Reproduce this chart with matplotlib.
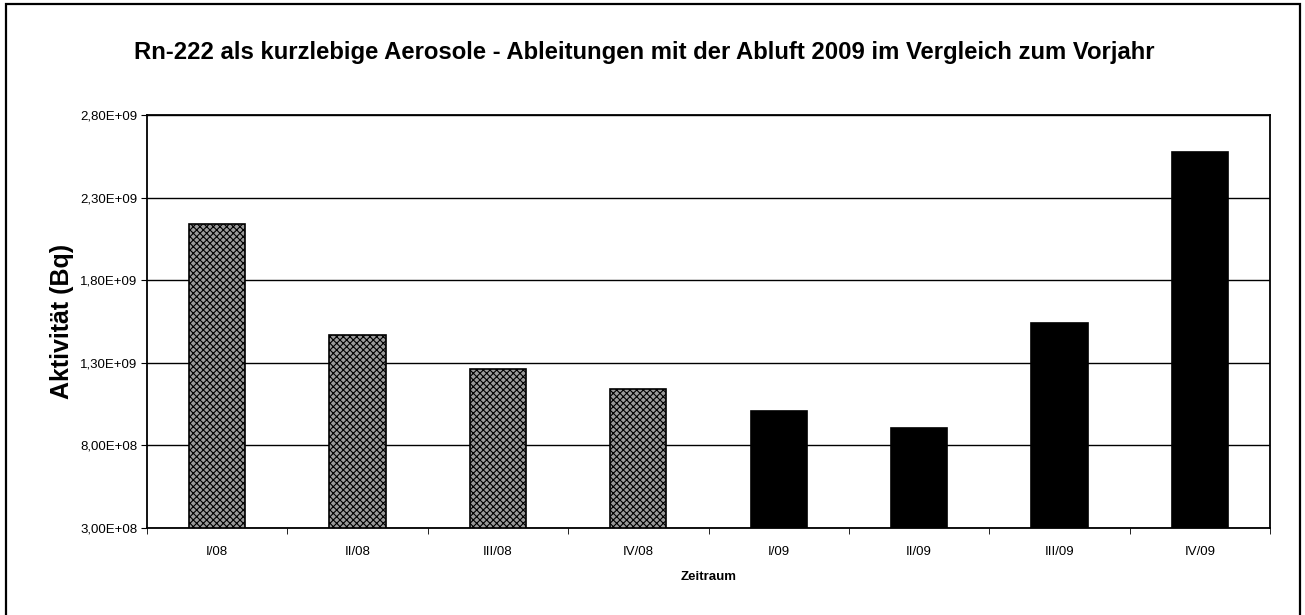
import numpy as np
import matplotlib.pyplot as plt
from matplotlib.patches import Rectangle
from matplotlib.ticker import FuncFormatter

plt.rcParams['font.family'] = ['Liberation Sans', 'DejaVu Sans']
plt.rcParams['hatch.linewidth'] = 0.8

# Data
periods = ['I/08', 'II/08', 'III/08', 'IV/08', 'I/09', 'II/09', 'III/09', 'IV/09']
activity = [2.14e9, 1.47e9, 1.26e9, 1.14e9, 1.01e9, 9.05e8, 1.54e9, 2.575e9]
is_prev_year = [True, True, True, True, False, False, False, False]
y_ticks = [3e8, 8e8, 1.3e9, 1.8e9, 2.3e9, 2.8e9]


def sci_comma(v, pos):
    s = '%.2E' % v
    return s.replace('.', ',')


def main():
    fig = plt.figure(figsize=(13.05, 6.15), dpi=100)
    W, H = 1305, 615
    ax = fig.add_axes([147 / W, 1 - 528 / H, (1270 - 147) / W, (528 - 115) / H])

    # Outer chart frame
    fig.patches.append(Rectangle((6 / W, -0.05), (1300 - 6) / W, 1.05 - 4 / H,
                                 transform=fig.transFigure, fill=False,
                                 edgecolor='black', linewidth=1.6))

    x = np.arange(len(periods))
    for xi, val, prev in zip(x, activity, is_prev_year):
        if prev:
            ax.bar(xi, val - y_ticks[0], bottom=y_ticks[0], width=0.4,
                   facecolor='#9a9a9a', edgecolor='black', hatch='xxxxx',
                   linewidth=1.2, zorder=3)
        else:
            ax.bar(xi, val - y_ticks[0], bottom=y_ticks[0], width=0.4,
                   color='black', edgecolor='black', linewidth=1.2, zorder=3)

    ax.set_xlim(-0.5, len(periods) - 0.5)
    ax.set_ylim(y_ticks[0], y_ticks[-1])
    ax.set_yticks(y_ticks)
    ax.yaxis.set_major_formatter(FuncFormatter(sci_comma))
    ax.yaxis.grid(True, color='black', linewidth=1.0, zorder=0)
    ax.set_axisbelow(True)

    ax.set_xticks(x)
    ax.set_xticklabels(periods)
    ax.set_xticks(np.arange(-0.5, len(periods)), minor=True)
    ax.tick_params(axis='x', which='major', length=0, pad=13, labelsize=9.5)
    ax.tick_params(axis='x', which='minor', length=4, direction='out')
    ax.tick_params(axis='y', length=4, direction='out', labelsize=9.5, pad=3)

    for sp in ax.spines.values():
        sp.set_linewidth(1.3)

    ax.set_xlabel('Zeitraum', fontsize=9.5, fontweight='bold', labelpad=9)
    ax.set_ylabel('Aktivität (Bq)', fontsize=18, fontweight='bold', labelpad=4)

    fig.text(0.494, 1 - 52 / H,
             'Rn-222 als kurzlebige Aerosole - Ableitungen mit der Abluft 2009 im Vergleich zum Vorjahr',
             ha='center', va='center', fontsize=17.2, fontweight='bold')

    fig.savefig('out.png', dpi=100)


if __name__ == "__main__":
    main()
